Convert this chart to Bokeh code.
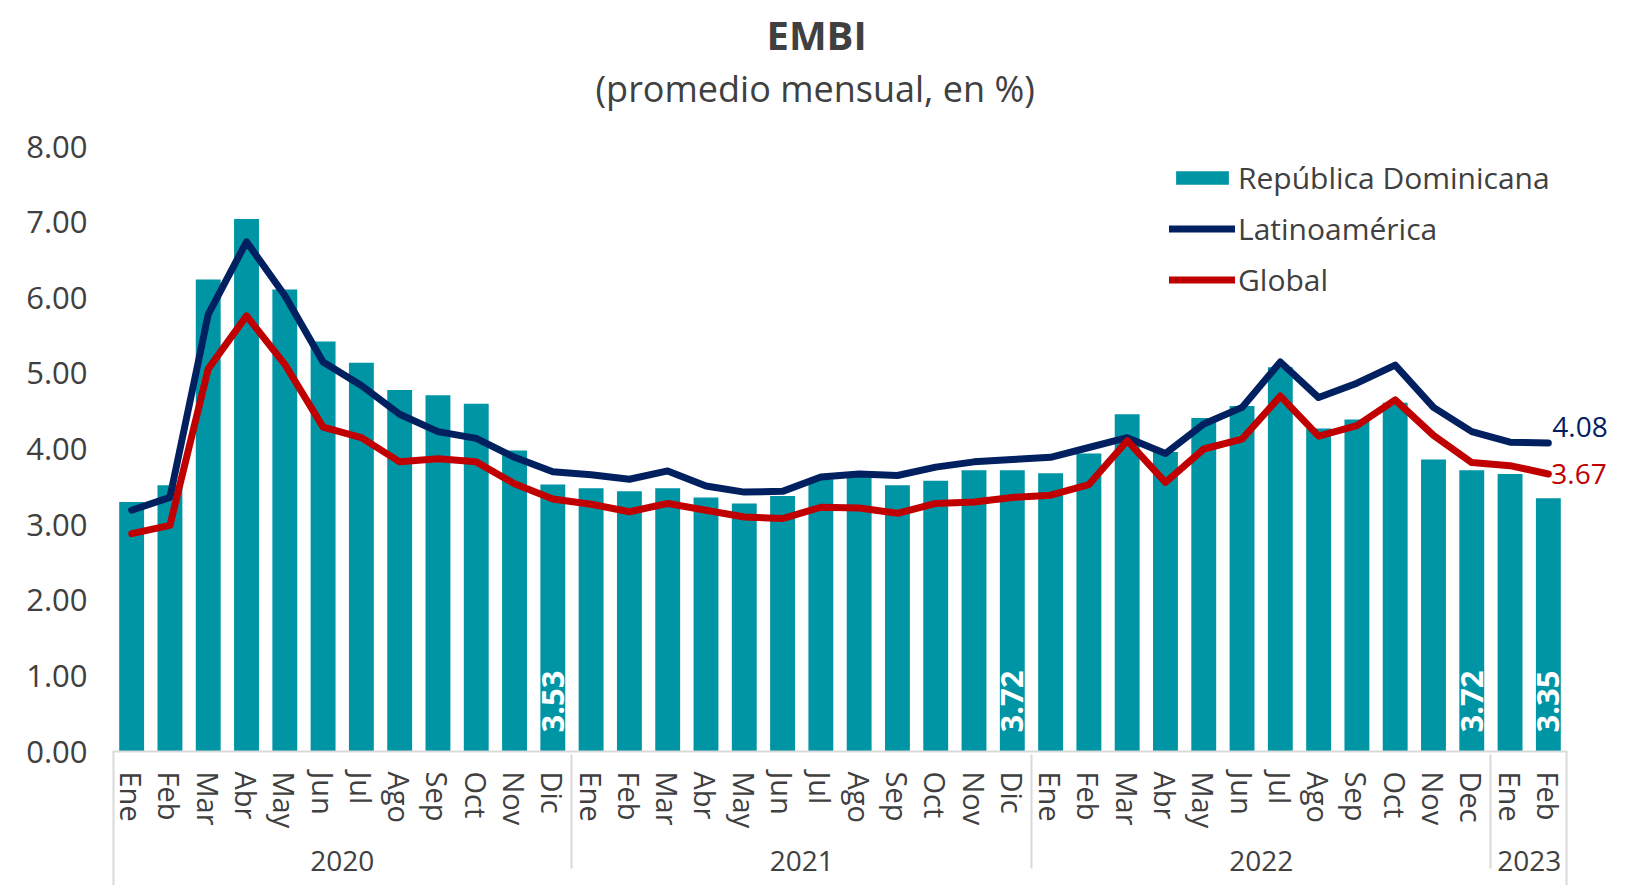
import math
from bokeh.plotting import figure
from bokeh.models import (FactorRange, ColumnDataSource, Legend, LegendItem, Label, Title,
                          NumeralTickFormatter, FixedTicker, CategoricalAxis)
from bokeh.embed import file_html
from bokeh.resources import INLINE
from bokeh.core.properties import value

years = ["2020"] * 12 + ["2021"] * 12 + ["2022"] * 12 + ["2023"] * 2
months = (["Ene", "Feb", "Mar", "Abr", "May", "Jun", "Jul", "Ago", "Sep", "Oct", "Nov", "Dic"] * 2
          + ["Ene", "Feb", "Mar", "Abr", "May", "Jun", "Jul", "Ago", "Sep", "Oct", "Nov", "Dec"]
          + ["Ene", "Feb"])

rep_dom = [3.30, 3.52, 6.24, 7.04, 6.11, 5.42, 5.14, 4.78, 4.71, 4.60, 3.98, 3.53,
           3.48, 3.44, 3.48, 3.36, 3.28, 3.38, 3.60, 3.65, 3.52, 3.58, 3.72, 3.72,
           3.68, 3.94, 4.46, 3.96, 4.41, 4.57, 5.08, 4.27, 4.39, 4.61, 3.86, 3.72,
           3.67, 3.35]
latam = [3.19, 3.36, 5.78, 6.74, 6.03, 5.15, 4.84, 4.46, 4.23, 4.14, 3.89, 3.70,
         3.66, 3.60, 3.71, 3.51, 3.43, 3.44, 3.63, 3.67, 3.65, 3.76, 3.83, 3.86,
         3.89, 4.02, 4.15, 3.94, 4.33, 4.55, 5.15, 4.68, 4.87, 5.11, 4.55, 4.23,
         4.09, 4.08]
global_ = [2.88, 2.99, 5.06, 5.76, 5.12, 4.29, 4.15, 3.83, 3.87, 3.83, 3.54, 3.34,
           3.27, 3.17, 3.28, 3.19, 3.10, 3.08, 3.23, 3.22, 3.15, 3.28, 3.30, 3.36,
           3.39, 3.53, 4.11, 3.56, 4.00, 4.13, 4.70, 4.17, 4.31, 4.65, 4.18, 3.82,
           3.78, 3.67]
labeled_idx = [11, 23, 35, 37]
y_ticks = [0, 1, 2, 3, 4, 5, 6, 7, 8]

TEAL = "#0095A5"
NAVY = "#002060"
RED = "#C00000"
GREY = "#404040"
SEP = "#D9D9D9"
FONT = "Open Sans"

factors = list(zip(years, months))
n = len(factors)
src = ColumnDataSource(dict(x=factors, rd=rep_dom, la=latam, gl=global_))

p = figure(width=1631, height=885,
           x_range=FactorRange(*factors, factor_padding=0, group_padding=0,
                               subgroup_padding=0, range_padding=0),
           y_range=(0, 8), output_backend="svg", toolbar_location=None,
           x_axis_location=None,
           min_border_left=112, min_border_right=64, min_border_top=146,
           min_border_bottom=134)
p.title = None
# helper range whose two factors sit on the left and right frame edges
p.extra_x_ranges = {"edges": FactorRange("L", "R", factor_padding=0, range_padding=-0.499,
                                         range_padding_units="absolute")}

bars = p.vbar(x="x", top="rd", width=0.65, source=src, fill_color=TEAL, line_color=None)
l1 = p.line(x="x", y="la", source=src, line_width=7, line_color=NAVY,
            line_join="round", line_cap="round")
l2 = p.line(x="x", y="gl", source=src, line_width=7, line_color=RED,
            line_join="round", line_cap="round")

# white value labels inside selected bars
p.text(x=[factors[i] for i in labeled_idx], y=[0] * len(labeled_idx),
       text=[f"{rep_dom[i]:.2f}" for i in labeled_idx],
       angle=math.pi / 2, text_align="left", text_baseline="middle", y_offset=-19,
       text_color="white", text_font=value(FONT), text_font_size="31px",
       text_font_style="bold")

# end-of-line value labels (placed in side panels so they are not clipped)
p.add_layout(Label(x=n - 0.5, y=global_[-1], text=f"{global_[-1]:.2f}", x_offset=3, y_offset=0,
                   text_baseline="middle", text_align="left", text_color=RED,
                   padding=(0, 0, 7, 7),
                   text_font=FONT, text_font_size="28px"), "above")
p.add_layout(Label(x=n - 0.5, y=latam[-1], text=f"{latam[-1]:.2f}", x_offset=4, y_offset=16,
                   text_baseline="middle", text_align="left", text_color=NAVY,
                   text_font=FONT, text_font_size="28px"), "right")

p.add_layout(Title(text="(promedio mensual, en %)", align="left", offset=483, standoff=0,
                   text_font=FONT, text_font_size="36px", text_font_style="normal",
                   text_color=GREY), "above")
p.add_layout(Title(text="EMBI", align="left", offset=654, standoff=0, text_font=FONT,
                   text_font_size="40px", text_font_style="bold", text_color=GREY), "above")

# vertical edge lines of the category axis
edge_axis = CategoricalAxis(x_range_name="edges",
                            axis_line_color=None, major_tick_in=-140, major_tick_out=0,
                            minor_tick_in=0, minor_tick_out=0, minor_tick_line_color=None,
                            major_tick_line_color=SEP, major_tick_line_width=2,
                            major_label_standoff=0, major_label_text_font_size="0px",
                            major_label_text_alpha=0)
p.add_layout(edge_axis, "below")

xa = CategoricalAxis()
xa.axis_line_color = SEP
xa.axis_line_width = 2
xa.major_tick_line_color = None
xa.minor_tick_line_color = None
xa.major_tick_out = 0
xa.major_tick_in = 0
xa.major_label_orientation = "vertical"
xa.major_label_standoff = 20
xa.major_label_text_font = FONT
xa.major_label_text_font_size = "29px"
xa.major_label_text_color = GREY
xa.group_text_font = FONT
xa.group_text_font_size = "28px"
xa.group_text_font_style = "normal"
xa.group_text_color = GREY
xa.separator_line_color = SEP
xa.separator_line_width = 2
p.add_layout(xa, "below")

legend = Legend(items=[LegendItem(label="República Dominicana", renderers=[bars]),
                       LegendItem(label="Latinoamérica", renderers=[l1]),
                       LegendItem(label="Global", renderers=[l2])],
                location=(1057, 451), orientation="vertical",
                glyph_width=66, glyph_height=17, label_height=38, spacing=10,
                label_standoff=3, padding=0, margin=0,
                label_text_font=FONT, label_text_font_size="30px", label_text_color=GREY,
                border_line_color=None, background_fill_color=None)
p.add_layout(legend)

p.xgrid.grid_line_color = None
p.ygrid.grid_line_color = None
p.outline_line_color = None

p.yaxis.ticker = FixedTicker(ticks=y_ticks)
p.yaxis.formatter = NumeralTickFormatter(format="0.00")
p.yaxis.axis_line_color = None
p.yaxis.major_tick_line_color = None
p.yaxis.minor_tick_line_color = None
p.yaxis.major_tick_out = 0
p.yaxis.minor_tick_out = 0
p.yaxis.major_label_standoff = 25
p.yaxis.major_label_text_font = FONT
p.yaxis.major_label_text_font_size = "31px"
p.yaxis.major_label_text_color = GREY

open("out.html", "w").write(file_html(p, INLINE))
